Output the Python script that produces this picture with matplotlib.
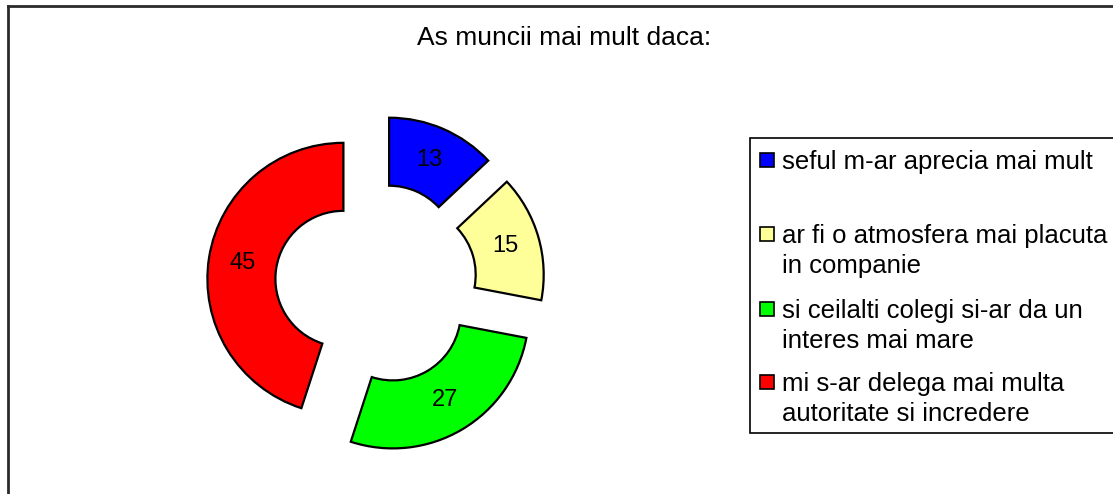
import matplotlib
matplotlib.use("Agg")
import matplotlib.pyplot as plt
from matplotlib.patches import Rectangle
from matplotlib.lines import Line2D

plt.rcParams['font.family'] = ['Liberation Sans', 'DejaVu Sans']

title = "As muncii mai mult daca:"
categories = [
    "seful m-ar aprecia mai mult",
    "ar fi o atmosfera mai placuta\nin companie",
    "si ceilalti colegi si-ar da un\ninteres mai mare",
    "mi s-ar delega mai multa\nautoritate si incredere",
]
values = [13, 15, 27, 45]
colors = ["#0000FF", "#FFFF99", "#00FF00", "#FF0000"]

W, H = 1113, 494
fig = plt.figure(figsize=(W / 100, H / 100), dpi=100)
ax = fig.add_axes([0, 0, 1, 1])

R = 136
cx, cy = 376, H - 284
wedges, texts, autotexts = ax.pie(
    values, colors=colors, radius=R, center=(cx, cy), startangle=90,
    counterclock=False, explode=[33] * len(values),
    wedgeprops=dict(width=R * 0.5, edgecolor="black", linewidth=1.6),
    autopct=lambda p: f"{p * sum(values) / 100:.0f}", pctdistance=0.75,
    textprops=dict(fontsize=17, color="black"), frame=True)
ax.set_xlim(0, W)
ax.set_ylim(0, H)
ax.set_aspect('auto')
ax.axis('off')

# outer frame (only left/top visible)
ax.add_line(Line2D([7.5, 7.5], [0, H - 6.5], color="#2a2a2a", lw=2))
ax.add_line(Line2D([7.5, W], [H - 6.5, H - 6.5], color="#2a2a2a", lw=2))

fig.text(564 / W, 1 - 38 / H, title, ha='center', va='center', fontsize=19)

# legend
lx0, ly_top, ly_bot = 750, 138, 433
ax.add_patch(Rectangle((lx0, H - ly_bot), W - lx0 + 5, ly_bot - ly_top,
                       facecolor='white', edgecolor='black', lw=1.2))
entry_y = [160, 234, 309, 382]
for lab, col, yy in zip(categories, colors, entry_y):
    ax.add_patch(Rectangle((760, H - yy - 7), 14, 14, facecolor=col,
                           edgecolor='black', lw=1.2))
    ax.text(782, H - yy + 10, lab, ha='left', va='top', fontsize=18.5,
            linespacing=1.33)

fig.savefig("out.png", dpi=100)
